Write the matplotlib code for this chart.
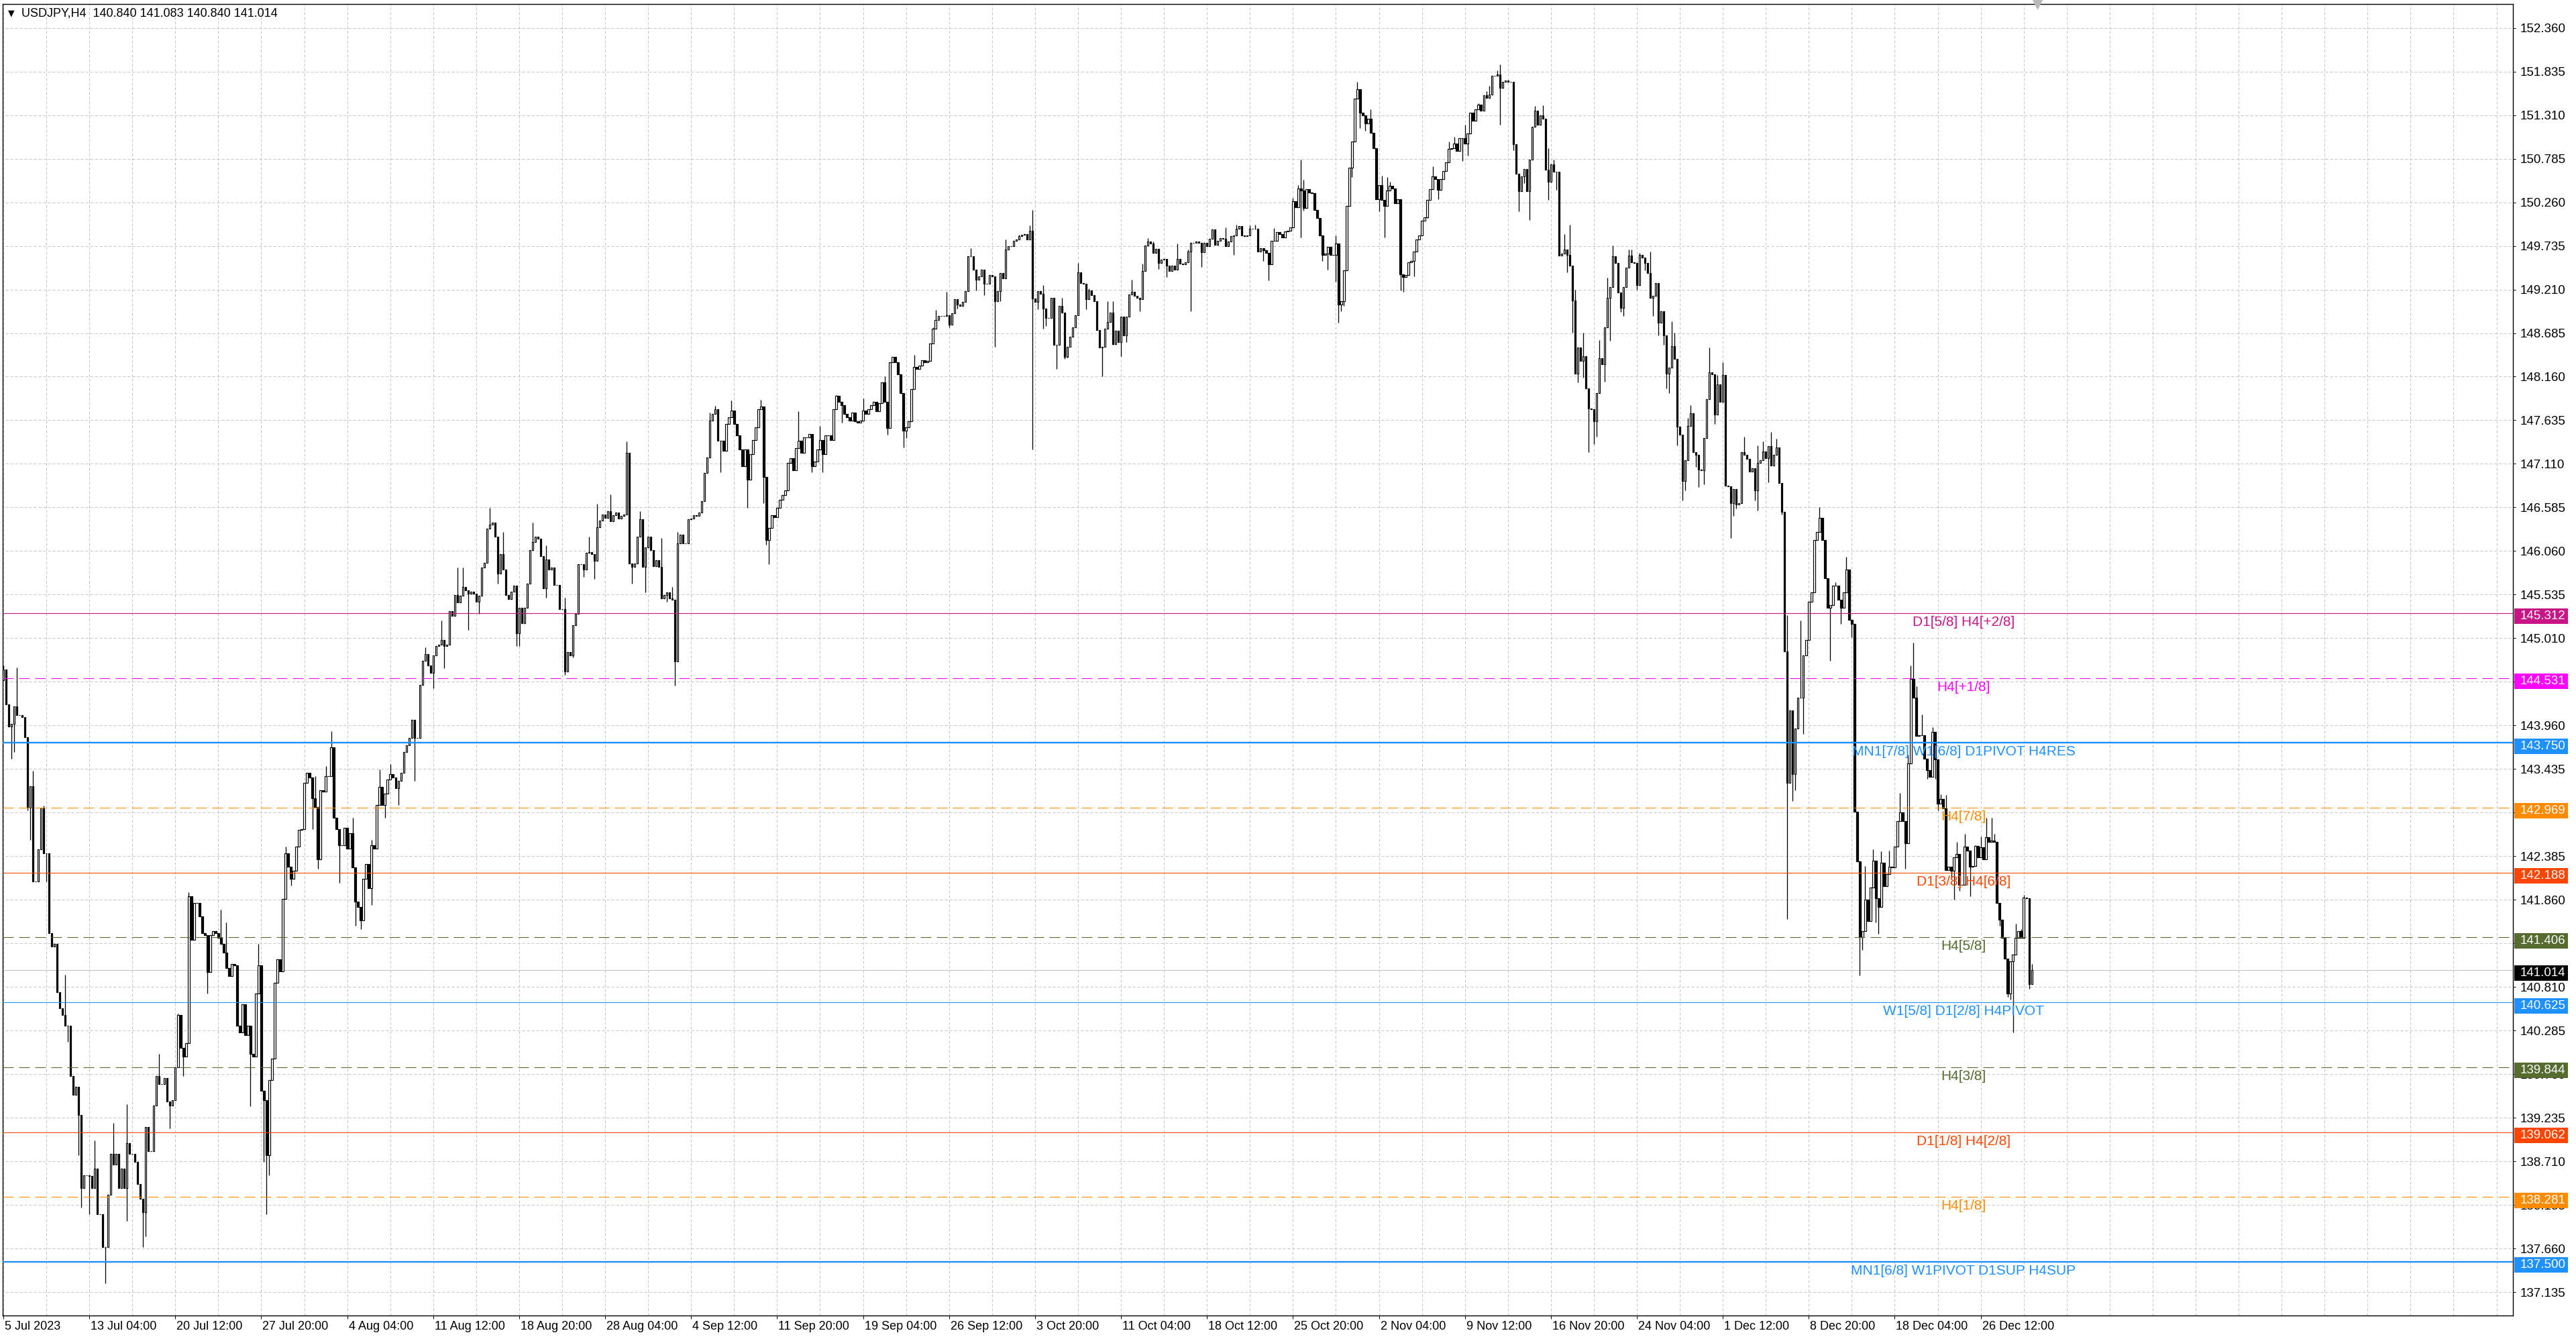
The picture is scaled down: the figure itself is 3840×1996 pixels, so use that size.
import matplotlib
matplotlib.use('Agg')
import matplotlib.pyplot as plt
import matplotlib.transforms as mtransforms
from matplotlib.patches import Rectangle
import numpy as np

plt.rcParams['font.family'] = ['Liberation Sans', 'DejaVu Sans']
plt.rcParams['lines.scale_dashes'] = False

# ---- data (USDJPY H4, one value per candle) ----
chart_title = 'USDJPY,H4  140.840 141.083 140.840 141.014'
first_open = 144.50
closes = [
    144.63, 144.21, 143.95, 143.98, 144.19, 144.08, 144.08, 144.06, 143.82, 142.97, 143.23, 142.08, 142.08, 142.47, 142.97, 142.42, 142.42, 141.46, 141.30, 141.33,
    140.75, 140.55, 140.47, 140.34, 140.34, 139.74, 139.51, 139.61, 139.27, 138.39, 138.54, 138.54, 138.53, 138.39, 138.62, 138.07, 138.07, 137.68, 137.68, 138.31,
    138.80, 138.67, 138.80, 138.39, 138.62, 138.39, 138.93, 138.80, 138.80, 138.70, 138.44, 138.26, 138.10, 139.12, 138.83, 138.83, 139.38, 139.74, 139.64, 139.64,
    139.71, 139.43, 139.38, 139.45, 139.84, 140.47, 140.08, 139.97, 140.13, 141.90, 141.38, 141.82, 141.82, 141.66, 141.46, 141.43, 140.99, 141.43, 141.48, 141.46,
    141.40, 141.33, 141.22, 141.04, 140.94, 141.09, 141.07, 140.34, 140.26, 140.60, 140.23, 140.34, 140.00, 139.97, 140.73, 141.07, 139.56, 139.45, 138.78, 139.69,
    139.95, 140.86, 141.14, 141.00, 141.87, 142.42, 142.26, 142.11, 142.21, 142.50, 142.70, 142.71, 143.27, 143.39, 143.33, 143.08, 142.98, 142.35, 143.18, 143.16,
    143.35, 143.35, 143.70, 142.85, 142.71, 142.52, 142.52, 142.73, 142.48, 142.66, 142.25, 141.84, 141.77, 141.61, 142.11, 142.29, 142.00, 142.52, 142.48, 143.00,
    143.22, 143.00, 143.14, 143.31, 143.37, 143.33, 143.20, 143.29, 143.39, 143.64, 143.72, 143.81, 144.03, 143.81, 143.81, 144.45, 144.74, 144.82, 144.68, 144.59,
    144.80, 144.92, 144.93, 144.99, 144.92, 144.93, 145.34, 145.28, 145.53, 145.44, 145.52, 145.63, 145.59, 145.55, 145.57, 145.55, 145.45, 145.52, 145.86, 145.92,
    146.33, 146.38, 146.40, 146.23, 145.79, 146.02, 145.84, 145.53, 145.48, 145.57, 145.64, 145.07, 145.38, 145.19, 145.38, 145.67, 146.07, 146.17, 146.23, 146.21,
    146.00, 145.61, 145.96, 145.84, 145.86, 145.65, 145.65, 145.36, 145.36, 144.61, 144.84, 144.80, 145.17, 145.30, 145.90, 145.90, 145.84, 146.04, 146.05, 146.02,
    145.94, 146.35, 146.43, 146.50, 146.46, 146.54, 146.42, 146.49, 146.52, 146.45, 146.48, 146.50, 147.24, 145.91, 145.87, 145.91, 146.23, 146.44, 145.87, 146.10,
    146.23, 146.07, 145.88, 145.95, 145.87, 145.49, 145.53, 145.56, 145.49, 145.47, 144.73, 146.15, 146.26, 146.15, 146.15, 146.44, 146.45, 146.49, 146.48, 146.52,
    146.66, 147.00, 147.19, 147.63, 147.71, 147.77, 147.39, 147.39, 147.27, 147.59, 147.67, 147.75, 147.59, 147.45, 147.28, 147.08, 147.28, 146.92, 147.23, 147.40,
    147.55, 147.77, 147.80, 146.95, 146.19, 146.34, 146.49, 146.47, 146.58, 146.68, 146.73, 146.79, 147.12, 147.18, 147.03, 147.30, 147.39, 147.24, 147.43, 147.43,
    147.47, 147.08, 147.14, 147.28, 147.40, 147.23, 147.45, 147.45, 147.40, 147.77, 147.93, 147.86, 147.82, 147.71, 147.67, 147.63, 147.73, 147.62, 147.61, 147.63,
    147.75, 147.71, 147.77, 147.82, 147.86, 147.74, 147.84, 148.09, 147.86, 147.54, 148.33, 148.40, 148.33, 148.19, 147.96, 147.51, 147.55, 147.62, 148.01, 148.28,
    148.25, 148.29, 148.36, 148.33, 148.35, 148.56, 148.74, 148.84, 148.89, 148.89, 148.89, 148.90, 148.79, 148.92, 149.09, 149.03, 149.01, 149.06, 149.19, 149.61,
    149.61, 149.45, 149.33, 149.37, 149.45, 149.28, 149.28, 149.38, 149.37, 149.07, 149.19, 149.41, 149.34, 149.69, 149.73, 149.73, 149.80, 149.81, 149.85, 149.87,
    149.88, 149.81, 149.92, 149.10, 149.06, 149.19, 149.16, 148.98, 148.87, 148.87, 149.11, 148.54, 148.54, 149.01, 148.93, 148.40, 148.52, 148.64, 148.75, 148.90,
    149.42, 149.29, 149.28, 149.09, 149.20, 149.14, 149.07, 148.72, 148.51, 148.52, 148.74, 148.82, 148.93, 148.55, 148.71, 148.58, 148.88, 148.66, 148.88, 149.15,
    149.18, 149.13, 149.11, 149.09, 149.43, 149.74, 149.79, 149.76, 149.65, 149.70, 149.53, 149.57, 149.58, 149.50, 149.43, 149.50, 149.45, 149.58, 149.52, 149.51,
    149.54, 149.67, 149.77, 149.77, 149.79, 149.77, 149.66, 149.77, 149.73, 149.82, 149.93, 149.75, 149.80, 149.83, 149.82, 149.73, 149.79, 149.85, 149.86, 149.94,
    149.97, 149.86, 149.85, 149.86, 149.94, 149.94, 149.94, 149.67, 149.71, 149.68, 149.65, 149.51, 149.80, 149.80, 149.90, 149.88, 149.84, 149.91, 149.92, 149.96,
    150.27, 150.20, 150.43, 150.40, 150.19, 150.42, 150.38, 150.37, 150.17, 150.07, 149.86, 149.63, 149.64, 149.72, 149.63, 149.63, 149.76, 149.03, 149.07, 149.44,
    150.22, 150.68, 150.99, 151.51, 151.62, 151.34, 151.31, 151.21, 151.27, 151.10, 150.91, 150.30, 150.47, 150.29, 150.22, 150.40, 150.46, 150.43, 150.25, 150.30,
    149.39, 149.36, 149.38, 149.54, 149.55, 149.67, 149.81, 149.86, 150.04, 150.08, 150.29, 150.42, 150.57, 150.54, 150.41, 150.54, 150.64, 150.74, 150.90, 150.91,
    150.97, 150.88, 151.03, 151.03, 150.97, 151.09, 151.34, 151.24, 151.38, 151.44, 151.36, 151.55, 151.52, 151.56, 151.78, 151.78, 151.80, 151.64, 151.71, 151.73,
    151.71, 151.71, 150.96, 150.60, 150.39, 150.57, 150.66, 150.39, 150.77, 151.17, 151.36, 151.19, 151.31, 151.27, 150.65, 150.51, 150.72, 150.63, 150.63, 149.62,
    149.64, 149.69, 149.63, 149.50, 149.08, 148.20, 148.51, 148.35, 148.41, 148.02, 147.78, 147.77, 147.62, 147.96, 148.38, 148.31, 148.75, 149.11, 149.24, 149.61,
    149.53, 149.17, 148.99, 149.24, 149.47, 149.62, 149.54, 149.53, 149.26, 149.63, 149.59, 149.53, 149.41, 149.11, 149.13, 149.29, 148.81, 148.95, 148.66, 148.20,
    148.27, 148.53, 148.37, 147.56, 147.46, 146.90, 147.15, 147.57, 147.72, 147.25, 147.22, 147.04, 147.03, 147.42, 147.89, 148.21, 148.19, 147.70, 148.07, 147.86,
    148.18, 146.85, 146.84, 146.64, 146.81, 146.62, 146.64, 147.25, 147.22, 147.17, 147.02, 147.06, 146.79, 147.12, 147.15, 147.26, 147.18, 147.32, 147.09, 147.22,
    147.31, 146.88, 146.53, 144.85, 143.27, 144.14, 143.37, 143.92, 144.29, 144.29, 144.80, 144.99, 145.45, 145.56, 146.19, 146.29, 146.46, 146.19, 145.73, 145.38,
    145.41, 145.64, 145.64, 145.47, 145.38, 145.56, 145.84, 145.23, 145.18, 142.92, 142.32, 141.41, 141.48, 141.86, 141.60, 142.01, 142.33, 141.88, 141.77, 142.31,
    142.02, 142.17, 142.26, 142.25, 142.50, 142.81, 142.91, 142.81, 142.54, 143.50, 144.52, 144.29, 143.83, 143.84, 143.84, 143.56, 143.42, 143.34, 143.88, 143.55,
    143.02, 143.07, 142.96, 142.22, 142.26, 142.21, 142.37, 142.41, 142.04, 142.04, 142.50, 142.45, 142.26, 142.27, 142.51, 142.37, 142.49, 142.35, 142.61, 142.56,
    142.57, 142.56, 141.82, 141.62, 141.40, 141.15, 140.73, 141.12, 141.20, 141.40, 141.48, 141.40, 141.89, 141.88, 140.84, 141.014,
]

# visible wick tips (candle number, 1-based -> price)
wick_highs = {
    1: 144.68, 6: 144.66, 12: 143.41, 16: 142.99, 24: 140.96, 35: 138.96, 42: 139.17, 47: 139.40, 59: 140.00, 66: 140.49,
    70: 141.95, 82: 141.74, 84: 141.59, 96: 141.33, 106: 142.50, 117: 143.35, 121: 143.47, 123: 143.89, 131: 142.85, 138: 142.58,
    141: 143.43, 145: 143.49, 158: 144.90, 164: 145.22, 170: 145.86, 172: 145.86, 182: 146.58, 187: 146.29, 198: 146.40, 203: 146.13,
    210: 145.50, 219: 146.23, 222: 146.63, 227: 146.74, 233: 147.38, 238: 146.54, 246: 146.22, 250: 145.63, 252: 146.29, 264: 147.73,
    266: 147.81, 272: 147.87, 283: 147.88, 284: 147.26, 297: 147.74, 305: 147.57, 311: 147.94, 321: 147.90, 329: 148.16, 340: 148.42,
    347: 148.75, 348: 148.96, 352: 149.18, 361: 149.71, 374: 149.81, 379: 149.87, 383: 149.98, 384: 150.17, 388: 149.26, 395: 149.11,
    401: 149.53, 405: 149.22, 412: 149.07, 414: 149.07, 421: 149.33, 425: 149.52, 427: 149.83, 429: 149.79, 438: 149.76, 442: 149.69,
    456: 149.96, 460: 149.99, 465: 149.98, 467: 149.99, 474: 149.95, 481: 150.31, 483: 150.47, 484: 150.77, 485: 150.53, 497: 149.86,
    505: 151.71, 510: 151.38, 514: 150.58, 516: 150.56, 517: 150.51, 533: 150.69, 539: 150.99, 541: 151.05, 545: 151.19, 550: 151.45,
    553: 151.60, 554: 151.66, 557: 151.85, 558: 151.92, 571: 151.42, 574: 151.43, 576: 150.91, 578: 150.77, 582: 149.88, 584: 149.99,
    586: 149.21, 589: 148.69, 595: 148.60, 598: 149.35, 600: 149.74, 606: 149.69, 607: 149.69, 610: 149.65, 614: 149.67, 622: 148.83,
    623: 148.69, 628: 147.66, 629: 147.82, 636: 148.51, 639: 148.18, 641: 148.33, 649: 147.44, 654: 147.33, 656: 147.38, 659: 147.49,
    661: 147.41, 665: 145.29, 670: 145.22, 677: 146.59, 683: 145.68, 687: 145.99, 694: 142.27, 697: 142.47, 700: 142.44, 703: 142.45,
    707: 143.15, 710: 143.61, 711: 144.68, 712: 144.96, 713: 144.43, 715: 144.09, 719: 143.94, 722: 143.13, 724: 143.12, 728: 142.56,
    731: 142.65, 735: 142.52, 737: 142.62, 739: 142.85, 741: 142.85, 742: 142.65, 750: 141.57, 752: 141.51, 753: 141.92, 754: 141.89,
    756: 141.083,
}
wick_lows = {
    4: 143.56, 5: 143.64, 10: 142.94, 11: 142.58, 17: 142.08, 25: 140.15, 29: 138.78, 30: 138.15, 33: 138.07, 39: 137.24,
    47: 137.99, 53: 137.68, 54: 137.81, 63: 139.11, 68: 139.74, 77: 140.73, 93: 139.37, 98: 138.70, 99: 138.07, 100: 138.54,
    108: 142.03, 116: 142.71, 118: 142.23, 126: 142.06, 132: 141.55, 134: 141.51, 138: 141.80, 143: 142.85, 148: 143.00, 154: 143.29,
    161: 144.41, 165: 144.65, 174: 145.11, 178: 145.30, 185: 145.67, 192: 144.92, 193: 144.92, 203: 145.50, 210: 144.57, 213: 144.78,
    217: 145.75, 221: 145.72, 235: 145.67, 240: 145.56, 248: 145.45, 251: 144.44, 268: 147.01, 278: 146.58, 284: 146.64, 285: 146.14,
    286: 145.90, 302: 147.01, 306: 147.01, 313: 147.61, 330: 147.46, 336: 147.31, 337: 147.42, 353: 148.75, 356: 148.98, 363: 149.20,
    366: 149.14, 370: 148.52, 372: 149.07, 384: 147.28, 386: 148.97, 388: 148.74, 389: 148.77, 393: 148.25, 396: 148.37, 397: 148.39,
    404: 148.97, 410: 148.16, 414: 148.54, 417: 148.41, 419: 148.58, 424: 148.95, 431: 149.46, 434: 149.36, 443: 148.95, 447: 149.48,
    459: 149.63, 470: 149.55, 472: 149.32, 484: 149.84, 485: 150.16, 492: 149.55, 494: 149.45, 497: 149.30, 498: 148.81, 499: 148.95,
    500: 149.01, 503: 150.56, 506: 151.15, 508: 151.12, 513: 150.15, 515: 149.84, 521: 149.20, 522: 149.18, 526: 149.37, 531: 150.07,
    535: 150.30, 544: 150.76, 546: 150.82, 549: 151.24, 558: 151.19, 563: 150.89, 565: 150.15, 567: 150.49, 569: 150.05, 576: 150.29,
    579: 150.41, 583: 149.42, 585: 148.69, 587: 148.09, 589: 148.15, 591: 147.25, 593: 147.35, 594: 147.44, 597: 148.10, 599: 148.59,
    603: 148.94, 604: 148.89, 609: 149.21, 612: 149.44, 615: 148.89, 617: 148.66, 619: 148.54, 620: 148.02, 621: 147.96, 624: 147.33,
    626: 146.67, 627: 146.79, 631: 147.07, 632: 146.83, 634: 146.86, 638: 147.59, 644: 146.22, 645: 146.48, 646: 146.57, 653: 146.67,
    654: 146.55, 658: 146.89, 663: 146.50, 665: 141.63, 667: 143.05, 668: 143.18, 671: 143.86, 681: 144.74, 685: 145.18, 689: 145.02,
    692: 140.95, 693: 141.26, 698: 141.59, 699: 141.45, 709: 142.23, 717: 143.32, 720: 143.32, 721: 142.94, 726: 142.13, 727: 141.86,
    729: 141.97, 733: 141.90, 744: 141.55, 747: 140.69, 748: 140.66, 749: 140.26, 755: 140.79, 756: 140.84,
}

x_labels = ['5 Jul 2023', '13 Jul 04:00', '20 Jul 12:00', '27 Jul 20:00', '4 Aug 04:00', '11 Aug 12:00',
            '18 Aug 20:00', '28 Aug 04:00', '4 Sep 12:00', '11 Sep 20:00', '19 Sep 04:00', '26 Sep 12:00',
            '3 Oct 20:00', '11 Oct 04:00', '18 Oct 12:00', '25 Oct 20:00', '2 Nov 04:00', '9 Nov 12:00',
            '16 Nov 20:00', '24 Nov 04:00', '1 Dec 12:00', '8 Dec 20:00', '18 Dec 04:00', '26 Dec 12:00']
y_ticks = [152.360, 151.835, 151.310, 150.785, 150.260, 149.735, 149.210, 148.685, 148.160, 147.635,
           147.110, 146.585, 146.060, 145.535, 145.010, 144.485, 143.960, 143.435, 142.910, 142.385,
           141.860, 141.335, 140.810, 140.285, 139.760, 139.235, 138.710, 138.185, 137.660, 137.135]
# price scale labels that the terminal hides behind level boxes
hidden_ticks = [144.485, 142.910, 141.335]

level_prices = [145.312, 144.531, 143.750, 142.969, 142.188, 141.406, 140.625, 139.844, 139.062, 138.281, 137.500]
level_texts = ['D1[5/8] H4[+2/8]', 'H4[+1/8]', 'MN1[7/8] W1[6/8] D1PIVOT H4RES', 'H4[7/8]', 'D1[3/8] H4[6/8]',
               'H4[5/8]', 'W1[5/8] D1[2/8] H4PIVOT', 'H4[3/8]', 'D1[1/8] H4[2/8]', 'H4[1/8]',
               'MN1[6/8] W1PIVOT D1SUP H4SUP']
level_colors = ['#C71585', '#FF00FF', '#1E90FF', '#FF8C00', '#FF4500', '#556B2F',
                '#1E90FF', '#556B2F', '#FF4500', '#FF8C00', '#1E90FF']
level_dashed = [False, True, False, True, False, True, False, True, False, True, False]
level_thick = [False, False, True, False, False, False, False, False, False, False, True]
last_price = 141.014

# ---- layout (pixels of the 3840x1996 canvas) ----
FIG_W, FIG_H = 3840, 1996
AX_L, AX_R, AX_T, AX_B = 3.5, 3746.0, 6.0, 1960.6
PX = 0.72  # points per pixel at dpi 100
LABEL_STEP = 32
GRID_STEP = 16
TEXT_BAR = 729.6

fig = plt.figure(figsize=(FIG_W / 100, FIG_H / 100), dpi=100, facecolor='white')
ax = fig.add_axes([AX_L / FIG_W, 1 - AX_B / FIG_H, (AX_R - AX_L) / FIG_W, (AX_B - AX_T) / FIG_H])
ax.set_facecolor('white')
ymin, ymax = 136.856, 152.648
ax.set_xlim(-0.37, 934.1)
ax.set_ylim(ymin, ymax)
ax_w = AX_R - AX_L
px_price = (ymax - ymin) / (AX_B - AX_T)

# grid
grid_kw = dict(color='#c4c4c4', lw=1.0 * PX, linestyles=[(0, (4 * PX, 3 * PX))], zorder=0.6)
ax.hlines(y_ticks, -1, 940, **grid_kw)
ax.vlines(np.arange(0, 935, GRID_STEP), ymin, ymax, **grid_kw)

# candles
c = np.array(closes)
o = np.concatenate([[first_open], c[:-1]])
x = np.arange(len(c))
hi = np.maximum(o, c)
lo = np.minimum(o, c)
for k, v in wick_highs.items():
    hi[k - 1] = max(hi[k - 1], v)
for k, v in wick_lows.items():
    lo[k - 1] = min(lo[k - 1], v)
ax.vlines(x, lo, hi, color='black', lw=1.3 * PX, zorder=2)
up = c >= o
ax.bar(x[up], (c - o)[up], bottom=o[up], width=0.6, facecolor='white',
       edgecolor='black', linewidth=1.2 * PX, zorder=3)
ax.bar(x[~up], (o - c)[~up], bottom=c[~up], width=0.6, facecolor='black',
       edgecolor='black', linewidth=1.2 * PX, zorder=3)

# level lines + captions
ax.axhline(last_price, color='#c0c0c0', lw=1.0 * PX, zorder=1.8)
for price, text, col, dashed, thick in zip(level_prices, level_texts, level_colors, level_dashed, level_thick):
    ls = (0, (16 * PX, 8 * PX)) if dashed else '-'
    lw = (2.4 if thick else 1.1) * PX
    ax.axhline(price, color=col, lw=lw, linestyle=ls, zorder=4)
    ax.annotate(text, xy=(TEXT_BAR, price), xytext=(0, -4), textcoords='offset pixels',
                ha='center', va='top', fontsize=15, color=col, zorder=5)

# right price scale
ax.yaxis.tick_right()
ax.set_yticks(y_ticks)
ax.set_yticklabels(['' if t in hidden_ticks else '%.3f' % t for t in y_ticks])
ax.tick_params(axis='y', length=4 * PX, width=1.0 * PX, pad=7 * PX, labelsize=13.5,
               colors='black', direction='out')

trans = mtransforms.blended_transform_factory(ax.transAxes, ax.transData)
box_prices = level_prices + [last_price]
box_colors = level_colors + ['black']
for price, col in zip(box_prices, box_colors):
    yc = price - 5 * px_price
    ax.add_patch(Rectangle((1 + 2 / ax_w, yc - 11.5 * px_price), 80 / ax_w, 23 * px_price,
                           transform=trans, facecolor=col, edgecolor='none', clip_on=False, zorder=10))
    ax.text(1 + 11 / ax_w, yc, '%.3f' % price, transform=trans, color='white', fontsize=13.5,
            ha='left', va='center', clip_on=False, zorder=11)

# time scale
ax.set_xticks(np.arange(len(x_labels)) * LABEL_STEP)
ax.set_xticklabels(x_labels)
ax.tick_params(axis='x', length=5 * PX, width=1.0 * PX, pad=3 * PX, labelsize=13, direction='out')
shift = mtransforms.ScaledTranslation(2 / 100, 0, fig.dpi_scale_trans)
for lab in ax.get_xticklabels():
    lab.set_ha('left')
    lab.set_transform(lab.get_transform() + shift)

for sp in ax.spines.values():
    sp.set_color('black')
    sp.set_linewidth(1.4 * PX)

# header text and shift marker
fig.text(12 / FIG_W, 1 - 20 / FIG_H, '\u25BC', fontsize=9, va='center', ha='left',
         family=['DejaVu Sans'])
fig.text(32 / FIG_W, 1 - 20 / FIG_H, chart_title, fontsize=13, va='center', ha='left')
ax.plot([len(c) + 1], [1.0], marker='v', ms=10, color='#b8b8b8',
        transform=mtransforms.blended_transform_factory(ax.transData, ax.transAxes),
        clip_on=False, zorder=12)

fig.savefig('out.png', dpi=100, facecolor='white')
